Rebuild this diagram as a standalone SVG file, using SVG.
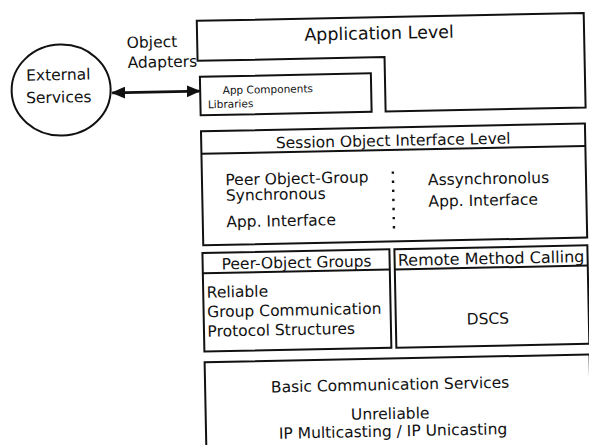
<svg xmlns="http://www.w3.org/2000/svg" width="589" height="445" viewBox="0 0 589 445">
<style>
.box{fill:none;stroke:#111;stroke-width:2}
.t{font-family:"DejaVu Sans","Liberation Sans",sans-serif;font-size:15.5px;fill:#111}
.m{text-anchor:middle}
.sm{font-size:10.5px}
.big{font-size:17.5px}
.conn{stroke:#111;stroke-width:2.6;fill:none}
</style>
<defs>
<marker id="ah" viewBox="0 0 14 12" refX="13" refY="6" markerWidth="14" markerHeight="12" markerUnits="userSpaceOnUse" orient="auto-start-reverse">
<path d="M0,0 L14,6 L0,12 z" fill="#111"/>
</marker>
</defs>
<rect x="0" y="0" width="589" height="445" fill="#fff"/>
<g transform="rotate(-1.15 390 230)">
<g id="external-services">
<ellipse cx="64" cy="83.5" rx="49.5" ry="45.5" class="box"/>
<text class="t m" x="61.5" y="73.5">External</text>
<text class="t m" x="61.5" y="96">Services</text>
</g>
<g id="object-adapters-label">
<text class="t" x="130.5" y="42.7">Object</text>
<text class="t" x="131" y="62.8">Adapters</text>
</g>
<g id="application-level">
<path class="box" d="M201,17 H588 V111.5 H388 V57 H201 Z"/>
<text class="t m big" x="383" y="39">Application Level</text>
</g>
<g id="app-components">
<rect class="box" x="203" y="73" width="171" height="38.5"/>
<text class="t sm" x="225.5" y="90.7">App Components</text>
<text class="t sm" x="210.5" y="104.5">Libraries</text>
</g>
<g id="session-level">
<rect class="box" x="203" y="127.5" width="384" height="114"/>
<line class="box" x1="203" y1="150" x2="587" y2="150"/>
<text class="t m" x="395" y="146">Session Object Interface Level</text>
<text class="t" x="226.5" y="182">Peer Object-Group</text>
<text class="t" x="226.5" y="197.5">Synchronous</text>
<text class="t" x="226.5" y="224">App. Interface</text>
<text class="t" x="429" y="186">Assynchronolus</text>
<text class="t" x="429" y="207.5">App.  Interface</text>
<line x1="394" y1="171.5" x2="394" y2="229" stroke="#111" stroke-width="2.4" stroke-dasharray="2.4 6.7"/>
</g>
<g id="peer-object-groups">
<rect class="box" x="202" y="249.3" width="187" height="98.5"/>
<line class="box" x1="202" y1="269.5" x2="389" y2="269.5"/>
<text class="t m" x="296" y="266">Peer-Object Groups</text>
<text class="t" x="205.5" y="294">Reliable</text>
<text class="t" x="205.5" y="313.5">Group Communication</text>
<text class="t" x="205.5" y="333">Protocol Structures</text>
</g>
<g id="remote-method-calling">
<rect class="box" x="394" y="249.3" width="193" height="98.5"/>
<line class="box" x1="394" y1="269.5" x2="587" y2="269.5"/>
<text class="t m" x="490.5" y="266" style="font-size:16px">Remote Method Calling</text>
<text class="t m" x="486" y="326">DSCS</text>
</g>
<g id="basic-communication">
<rect class="box" x="202" y="358.5" width="385" height="110"/>
<text class="t m" x="387" y="390">Basic Communication Services</text>
<text class="t m" x="386.5" y="419">Unreliable</text>
<text class="t m" x="389" y="436.5">IP Multicasting / IP Unicasting</text>
</g>
<g id="connectors">
<line class="conn" x1="115" y1="87.3" x2="202.5" y2="87.3" marker-start="url(#ah)" marker-end="url(#ah)"/>
</g>
</g>
</svg>
